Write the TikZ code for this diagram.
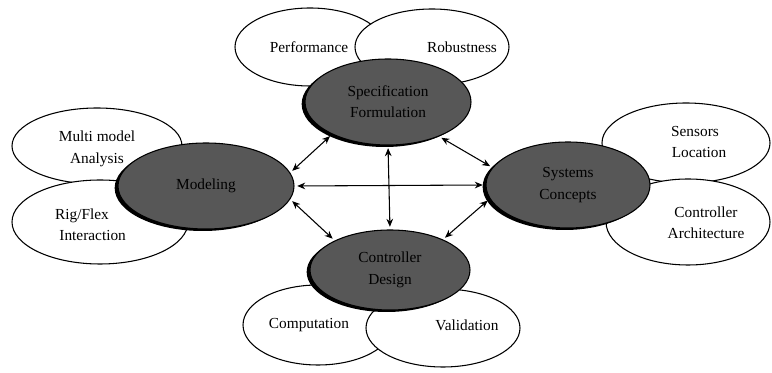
\documentclass[tikz,border=0pt]{standalone}
\usepackage{fontspec}
\setmainfont{Liberation Serif}
\usetikzlibrary{shapes.geometric,shadows,arrows.meta}

\tikzset{
  lightell/.style={ellipse,draw,thick,fill=white,inner sep=0pt},
  darkell/.style={ellipse,draw,thick,fill=black!66,inner sep=0pt,
    drop shadow={shadow xshift=-2.5pt,shadow yshift=-1.5pt,fill=black,opacity=1}},
  lbl/.style={align=center,font=\fontsize{11.5}{16}\selectfont},
  link/.style={{Stealth[length=6pt,width=5pt]}-{Stealth[length=6pt,width=5pt]},thick,shorten >=2pt,shorten <=2pt},
}

\begin{document}
\begin{tikzpicture}[x=0.75pt,y=-0.75pt]
    \useasboundingbox (0,0) rectangle (772,373);
    % outer ellipses
    \node[lightell,minimum width=112.5pt,minimum height=58.5pt] (perf) at (310,47) {};
    \node[lightell,minimum width=115.5pt,minimum height=57pt] (robust) at (432,47) {};
    \node[lightell,minimum width=127.5pt,minimum height=57pt] (multi) at (97,146) {};
    \node[lightell,minimum width=132pt,minimum height=63pt] (rigflex) at (100,222) {};
    \node[lightell,minimum width=126pt,minimum height=60pt] (sensors) at (686,143) {};
    \node[lightell,minimum width=123pt,minimum height=64.5pt] (arch) at (688,222) {};
    \node[lightell,minimum width=112.5pt,minimum height=60pt] (comput) at (318,325) {};
    \node[lightell,minimum width=115.5pt,minimum height=58.5pt] (valid) at (443,328) {};
    \node[lbl] (perftxt) at (309,47) {Performance};
    \node[lbl] (robusttxt) at (462,47) {Robustness};
    \node[lbl] (multitxt) at (97,149) {Multi model\\Analysis};
    \node[lbl] (rigtxt) at (82,225) {Rig/Flex\\\hspace*{16pt}Interaction};
    \node[lbl] (senstxt) at (695,142) {Sensors\\\hspace*{6pt}Location};
    \node[lbl] (archtxt) at (706,223) {Controller\\Architecture};
    \node[lbl] (computtxt) at (309,325) {Computation};
    \node[lbl] (validtxt) at (467,325) {Validation};
    % inner ellipses
    \node[darkell,minimum width=124.5pt,minimum height=64.5pt,lbl] (spec) at (388,102) {Specification\\Formulation};
    \node[darkell,minimum width=132pt,minimum height=64.5pt,lbl] (model) at (206,186) {Modeling};
    \node[darkell,minimum width=123pt,minimum height=64.5pt,lbl] (system) at (568,185) {Systems\\Concepts};
    \node[darkell,minimum width=120pt,minimum height=60pt,lbl] (design) at (390,270) {Controller\\Design};
    % links
    \draw[link] (model.east) -- (system.west);
    \draw[link] (spec.south) -- (design.north);
    \draw[link] (model.9) -- (spec.210);
    \draw[link] (spec.326) -- (system.167);
    \draw[link] (model.351) -- (design.152);
    \draw[link] (design.30) -- (system.190);
\end{tikzpicture}
\end{document}
